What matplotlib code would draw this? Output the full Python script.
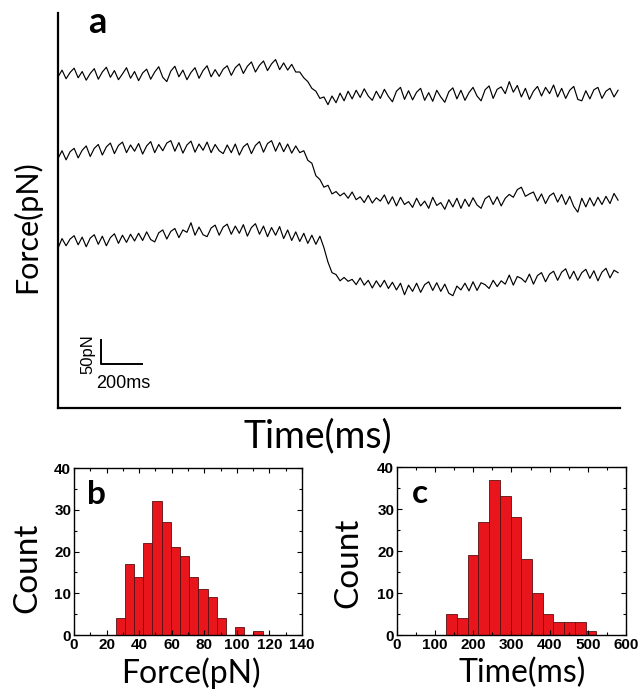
import numpy as np
import matplotlib
matplotlib.use('Agg')
import matplotlib.pyplot as plt

# force traces (pN, already stacked with offsets), one sample every DT ms
DT = 19.65
trace_1 = [690, 704, 686, 699, 708, 688, 701, 683, 697, 707, 685, 700, 710, 689, 703, 684, 696, 709, 687, 701,
           682, 698, 706, 685, 700, 711, 689, 680, 702, 712, 690, 704, 684, 699, 709, 687, 703, 713, 690, 705,
           691, 706, 713, 693, 709, 717, 697, 712, 721, 700, 714, 723, 703, 717, 726, 705, 719, 704, 716, 700,
           700, 688, 680, 666, 660, 645, 648, 632, 650, 636, 656, 640, 660, 644, 662, 647, 665, 650, 641, 660,
           645, 664, 649, 638, 660, 668, 643, 661, 642, 658, 666, 641, 657, 639, 662, 648, 637, 659, 667, 644,
           662, 641, 657, 668, 650, 640, 663, 671, 645, 664, 669, 655, 680, 658, 672, 648, 666, 643, 660, 670,
           650, 668, 655, 673, 648, 666, 645, 662, 670, 643, 640, 661, 644, 663, 668, 645, 660, 666, 648, 662]
trace_2 = [520, 536, 517, 534, 541, 521, 537, 546, 524, 541, 549, 527, 544, 552, 530, 547, 554, 532, 548, 535,
           551, 529, 546, 555, 532, 549, 536, 552, 557, 535, 553, 531, 548, 556, 533, 550, 537, 554, 532, 549,
           536, 530, 548, 532, 550, 527, 544, 551, 530, 547, 555, 533, 551, 557, 535, 553, 534, 550, 531, 546,
           532, 536, 516, 510, 484, 476, 460, 464, 446, 451, 442, 448, 437, 450, 434, 440, 428, 443, 427, 438,
           431, 444, 425, 440, 421, 439, 424, 430, 418, 437, 421, 431, 416, 439, 422, 428, 414, 434, 419, 437,
           416, 435, 420, 438, 423, 416, 436, 442, 424, 440, 421, 437, 445, 439, 455, 460, 441, 446, 450, 431,
           446, 426, 442, 448, 429, 445, 424, 441, 420, 408, 437, 419, 438, 421, 439, 424, 441, 426, 447, 433]
trace_3 = [333, 353, 338, 352, 359, 340, 356, 336, 354, 361, 341, 358, 338, 355, 363, 343, 360, 345, 362, 348,
           364, 349, 367, 351, 346, 365, 371, 352, 368, 374, 355, 371, 366, 386, 360, 377, 361, 357, 375, 381,
           360, 377, 383, 362, 379, 364, 382, 358, 376, 384, 362, 379, 357, 376, 360, 378, 353, 371, 349, 367,
           347, 364, 343, 360, 341, 358, 334, 304, 282, 278, 265, 272, 264, 268, 257, 271, 256, 266, 250, 265,
           252, 266, 249, 262, 246, 260, 236, 256, 243, 260, 241, 257, 263, 245, 261, 243, 258, 239, 234, 254,
           246, 260, 244, 263, 245, 261, 257, 249, 266, 253, 265, 258, 277, 256, 274, 270, 262, 279, 258, 276,
           282, 263, 279, 285, 266, 283, 290, 269, 285, 266, 282, 289, 270, 286, 265, 283, 291, 271, 287, 282]

# histogram b: rupture force
force_bin_start = 25.6
force_bin_width = 5.64
force_counts = [4, 17, 14, 22, 32, 27, 21, 19, 14, 11, 9, 4, 0, 2, 0, 1]

# histogram c: time
time_bin_start = 129
time_bin_width = 28.1
time_counts = [5, 4, 19, 27, 37, 33, 28, 18, 10, 5, 3, 3, 3, 1]

big_font = 'Lato'
tick_font = 'Liberation Sans'

fig = plt.figure(figsize=(6.41, 6.94), dpi=100)

# ---- panel a ----
ax = fig.add_axes([0.0905, 0.4121, 0.8768, 0.5692])
for tr in (trace_1, trace_2, trace_3):
    t = np.arange(len(tr)) * DT
    ax.plot(t, tr, color='black', lw=0.85)
ax.set_xlim(0, 2741)
ax.set_ylim(0, 823)
for s in ('top', 'right'):
    ax.spines[s].set_visible(False)
for s in ('left', 'bottom'):
    ax.spines[s].set_linewidth(1.6)
ax.set_xticks([])
ax.set_yticks([])
ax.set_xlabel('Time(ms)', fontsize=27, family=big_font, va='top')
ax.xaxis.set_label_coords(0.463, -0.025)
ax.set_ylabel('Force(pN)', fontsize=22, family=big_font)
ax.yaxis.set_label_coords(-0.03, 0.458)
ax.text(0.07, 0.975, 'a', transform=ax.transAxes, fontsize=26, fontweight='bold',
        family=big_font, ha='center', va='center')

# scale bar 50 pN / 200 ms
ax.plot([210, 210, 410], [142, 92, 92], color='black', lw=1.4)
ax.text(146, 112, '50pN', rotation=90, fontsize=12, family=tick_font,
        ha='center', va='center')
ax.text(319, 51, '200ms', fontsize=13, family=tick_font, ha='center', va='center')


def hist_panel(rect, start, width, counts, xmax, xmajor, xminor, xlabel, letter,
               ylab_xy, xlab_xy):
    h = fig.add_axes(rect)
    lefts = start + np.arange(len(counts)) * width
    h.bar(lefts, counts, width=width, align='edge', color='#e8161c',
          edgecolor='#5a1010', linewidth=0.6)
    h.set_xlim(0, xmax)
    h.set_ylim(0, 40)
    h.set_xticks(np.arange(0, xmax + 1, xmajor))
    h.set_xticks(np.arange(0, xmax + 1, xminor), minor=True)
    h.set_yticks([0, 10, 20, 30, 40])
    h.set_yticks(np.arange(0, 41, 5), minor=True)
    h.tick_params(which='both', direction='in', top=True, right=True, width=0.8)
    h.tick_params(which='major', length=3.5, labelsize=11, pad=2)
    h.tick_params(which='minor', length=2)
    for lab in h.get_xticklabels() + h.get_yticklabels():
        lab.set_fontweight('bold')
        lab.set_family(tick_font)
    for s in h.spines.values():
        s.set_linewidth(1.0)
    h.set_xlabel(xlabel, fontsize=23, family=big_font, va='top')
    h.xaxis.set_label_coords(*xlab_xy)
    h.set_ylabel('Count', fontsize=24, family=big_font)
    h.yaxis.set_label_coords(*ylab_xy)
    h.text(0.1, 0.84, letter, transform=h.transAxes, fontsize=24, fontweight='bold',
           family=big_font, ha='center', va='center')
    return h


hist_panel([0.1154, 0.085, 0.3557, 0.2406], force_bin_start, force_bin_width,
           force_counts, 140, 20, 10, 'Force(pN)', 'b', (-0.14, 0.40), (0.513, -0.135))
hist_panel([0.6193, 0.085, 0.3573, 0.242], time_bin_start, time_bin_width,
           time_counts, 600, 100, 50, 'Time(ms)', 'c', (-0.148, 0.43), (0.546, -0.135))

fig.savefig('out.png', dpi=100)
